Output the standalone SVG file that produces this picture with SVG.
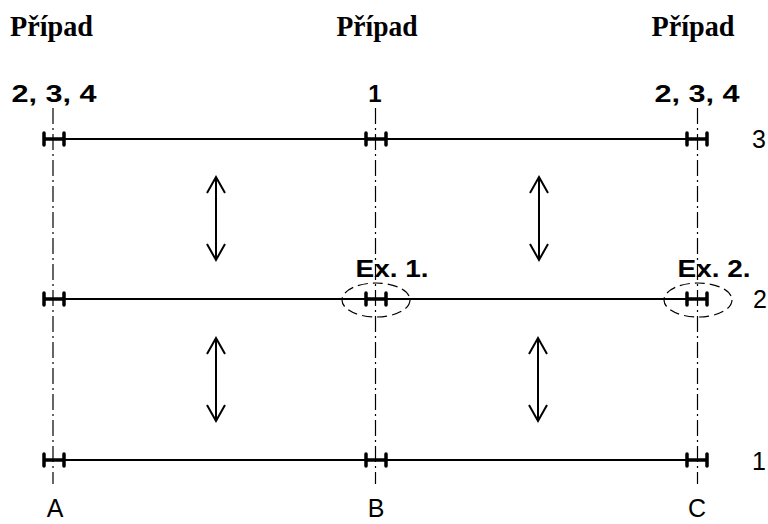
<svg xmlns="http://www.w3.org/2000/svg" width="768" height="524" viewBox="0 0 768 524">
<style>
.case{font-family:"Liberation Serif",serif;font-weight:bold;font-size:30px;fill:#000;text-anchor:middle}
.num{font-family:"Liberation Sans",Arial,sans-serif;font-weight:bold;font-size:24px;fill:#000;text-anchor:middle}
.lbl{font-family:"Liberation Sans",Arial,sans-serif;font-size:25px;fill:#000;text-anchor:middle}
.axis{stroke:#000;stroke-width:1.2;stroke-dasharray:16 4 2 4;fill:none}
.beam{stroke:#000;stroke-width:2;fill:none}
.h{stroke:#000;stroke-width:3.5;fill:none;stroke-linecap:round}
.arr{stroke:#000;stroke-width:2;fill:none}
.ell{stroke:#000;stroke-width:1.2;stroke-dasharray:10 5;fill:none}
</style>
<defs>
<g id="hmark"><path class="h" d="M-10,-6V6M10,-6V6M-10,0H10"/></g>
<g id="darr"><path class="arr" d="M0,0V83M-9,16L0,0L9,16M-9,67L0,83L9,67"/></g>
</defs>
<g id="axes">
<line class="axis" x1="53" y1="108" x2="53" y2="484"/>
<line class="axis" x1="375.5" y1="108" x2="375.5" y2="484"/>
<line class="axis" x1="697.5" y1="108" x2="697.5" y2="484"/>
</g>
<g id="level3">
<line class="beam" x1="44" y1="139" x2="708" y2="139"/>
<use href="#hmark" x="54" y="139"/><use href="#hmark" x="376" y="139"/><use href="#hmark" x="697" y="139"/>
<text class="lbl" x="759" y="148">3</text>
</g>
<g id="level2">
<line class="beam" x1="44" y1="299" x2="708" y2="299"/>
<use href="#hmark" x="54" y="299"/><use href="#hmark" x="376" y="299"/><use href="#hmark" x="697" y="299"/>
<text class="lbl" x="760" y="308">2</text>
</g>
<g id="level1">
<line class="beam" x1="44" y1="460" x2="708" y2="460"/>
<use href="#hmark" x="54" y="460"/><use href="#hmark" x="376" y="460"/><use href="#hmark" x="697" y="460"/>
<text class="lbl" x="759" y="470">1</text>
</g>
<g id="connectors">
<use href="#darr" x="216" y="177"/>
<use href="#darr" x="539" y="177"/>
<use href="#darr" x="216" y="338"/>
<use href="#darr" x="538" y="338"/>
</g>
<g id="ex1">
<ellipse class="ell" cx="376" cy="300" rx="34" ry="17"/>
<text class="num" x="392" y="277" textLength="73" lengthAdjust="spacingAndGlyphs">Ex. 1.</text>
</g>
<g id="ex2">
<ellipse class="ell" cx="698" cy="300" rx="34" ry="17"/>
<text class="num" x="714" y="277" textLength="73" lengthAdjust="spacingAndGlyphs">Ex. 2.</text>
</g>
<g id="headA">
<text class="case" x="51.5" y="36" textLength="83" lengthAdjust="spacingAndGlyphs">Případ</text>
<text class="num" x="54" y="102" textLength="85" lengthAdjust="spacingAndGlyphs">2, 3, 4</text>
<text class="lbl" x="55" y="517">A</text>
</g>
<g id="headB">
<text class="case" x="377" y="36" textLength="81" lengthAdjust="spacingAndGlyphs">Případ</text>
<text class="num" x="375" y="102">1</text>
<text class="lbl" x="376" y="517">B</text>
</g>
<g id="headC">
<text class="case" x="693" y="36" textLength="83" lengthAdjust="spacingAndGlyphs">Případ</text>
<text class="num" x="697" y="102" textLength="85" lengthAdjust="spacingAndGlyphs">2, 3, 4</text>
<text class="lbl" x="697" y="517">C</text>
</g>
</svg>
